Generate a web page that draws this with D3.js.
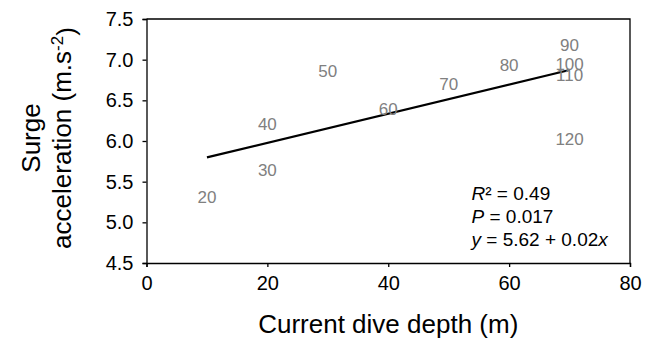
<!DOCTYPE html>
<html>
<head>
<meta charset="utf-8">
<script src="https://cdn.jsdelivr.net/npm/d3@7"></script>
<style>
  html, body { margin: 0; padding: 0; background: #fff; }
  svg { display: block; font-family: "Liberation Sans", Arial, sans-serif; }
</style>
</head>
<body>
<svg id="chart" width="645" height="340"></svg>
<script>
// Dive labels, their depth (m) and surge acceleration (m.s-2)
const diveLabels = ["20", "30", "40", "50", "60", "70", "80", "90", "100", "110", "120"];
const depth      = [10, 20, 20, 30, 40, 50, 60, 70, 70, 70, 70];
const surge      = [5.31, 5.64, 6.21, 6.86, 6.40, 6.70, 6.93, 7.18, 6.95, 6.81, 6.02];

// Linear fit: surge = intercept + slope * depth
const intercept = 5.62;
const slope = 0.0179;
const rSquared = "0.49";
const pValue = "0.017";

const xTicks = [0, 20, 40, 60, 80];
const yTicks = [4.5, 5.0, 5.5, 6.0, 6.5, 7.0, 7.5];

const svg = d3.select("#chart");
const margin = { left: 146.5, right: 15, top: 19, bottom: 77 };
const W = 645, H = 340;
const x0 = margin.left, x1 = W - margin.right;
const y0 = H - margin.bottom, y1 = margin.top;

const x = d3.scaleLinear().domain([0, 80]).range([x0, x1]);
const y = d3.scaleLinear().domain([4.5, 7.5]).range([y0, y1]);

// Frame (top and right sides)
svg.append("path")
  .attr("d", `M${x0},${y1}H${x1}V${y0}`)
  .attr("fill", "none").attr("stroke", "#000").attr("stroke-width", 1.3);

const xAxis = svg.append("g")
  .attr("transform", `translate(0,${y0})`)
  .call(d3.axisBottom(x).tickValues(xTicks).tickSize(4).tickPadding(9).tickFormat(d3.format("d")));
const yAxis = svg.append("g")
  .attr("transform", `translate(${x0},0)`)
  .call(d3.axisLeft(y).tickValues(yTicks).tickSize(4).tickPadding(9).tickFormat(d3.format(".1f")));

[xAxis, yAxis].forEach(g => {
  g.select(".domain").attr("stroke", "#000").attr("stroke-width", 1.3);
  g.selectAll(".tick line").attr("stroke", "#000").attr("stroke-width", 1.3);
  g.selectAll(".tick text")
    .attr("fill", "#000")
    .style("font-size", "20px")
    .style("font-family", "'Liberation Sans', Arial, sans-serif");
});

// Regression line across the sampled depth range
const [dMin, dMax] = d3.extent(depth);
svg.append("line")
  .attr("x1", x(dMin)).attr("y1", y(intercept + slope * dMin))
  .attr("x2", x(dMax)).attr("y2", y(intercept + slope * dMax))
  .attr("stroke", "#000").attr("stroke-width", 2.2);

// Dive labels drawn as the markers themselves
svg.append("g").selectAll("text")
  .data(diveLabels)
  .join("text")
  .attr("x", (d, i) => x(depth[i]))
  .attr("y", (d, i) => y(surge[i]))
  .attr("dy", "0.36em")
  .attr("text-anchor", "middle")
  .attr("fill", "#808080")
  .style("font-size", "17px")
  .text(d => d);

// Fit statistics
const stats = svg.append("g").attr("transform", "translate(471.5,0)").style("font-size", "19px");
const l1 = stats.append("text").attr("y", 200);
l1.append("tspan").style("font-style", "italic").text("R");
l1.append("tspan").text("² = " + rSquared);
const l2 = stats.append("text").attr("y", 223);
l2.append("tspan").style("font-style", "italic").text("P");
l2.append("tspan").text(" = " + pValue);
const l3 = stats.append("text").attr("y", 246);
l3.append("tspan").style("font-style", "italic").text("y");
l3.append("tspan").text(" = " + d3.format(".2f")(intercept) + " + " + d3.format(".2f")(slope));
l3.append("tspan").style("font-style", "italic").text("x");

// Axis titles
svg.append("text")
  .attr("x", (x0 + x1) / 2).attr("y", 333)
  .attr("text-anchor", "middle")
  .style("font-size", "26px")
  .text("Current dive depth (m)");

const yTitle = svg.append("g")
  .attr("transform", `translate(0,${(y0 + y1) / 2 - 3}) rotate(-90)`)
  .style("font-size", "26px")
  .attr("text-anchor", "middle");
yTitle.append("text").attr("y", 40).text("Surge");
const t2 = yTitle.append("text").attr("y", 71);
t2.append("tspan").text("acceleration (m.s");
t2.append("tspan").attr("dy", "-0.45em").style("font-size", "17px").text("-2");
t2.append("tspan").attr("dy", "0.45em").text(")");
</script>
</body>
</html>
